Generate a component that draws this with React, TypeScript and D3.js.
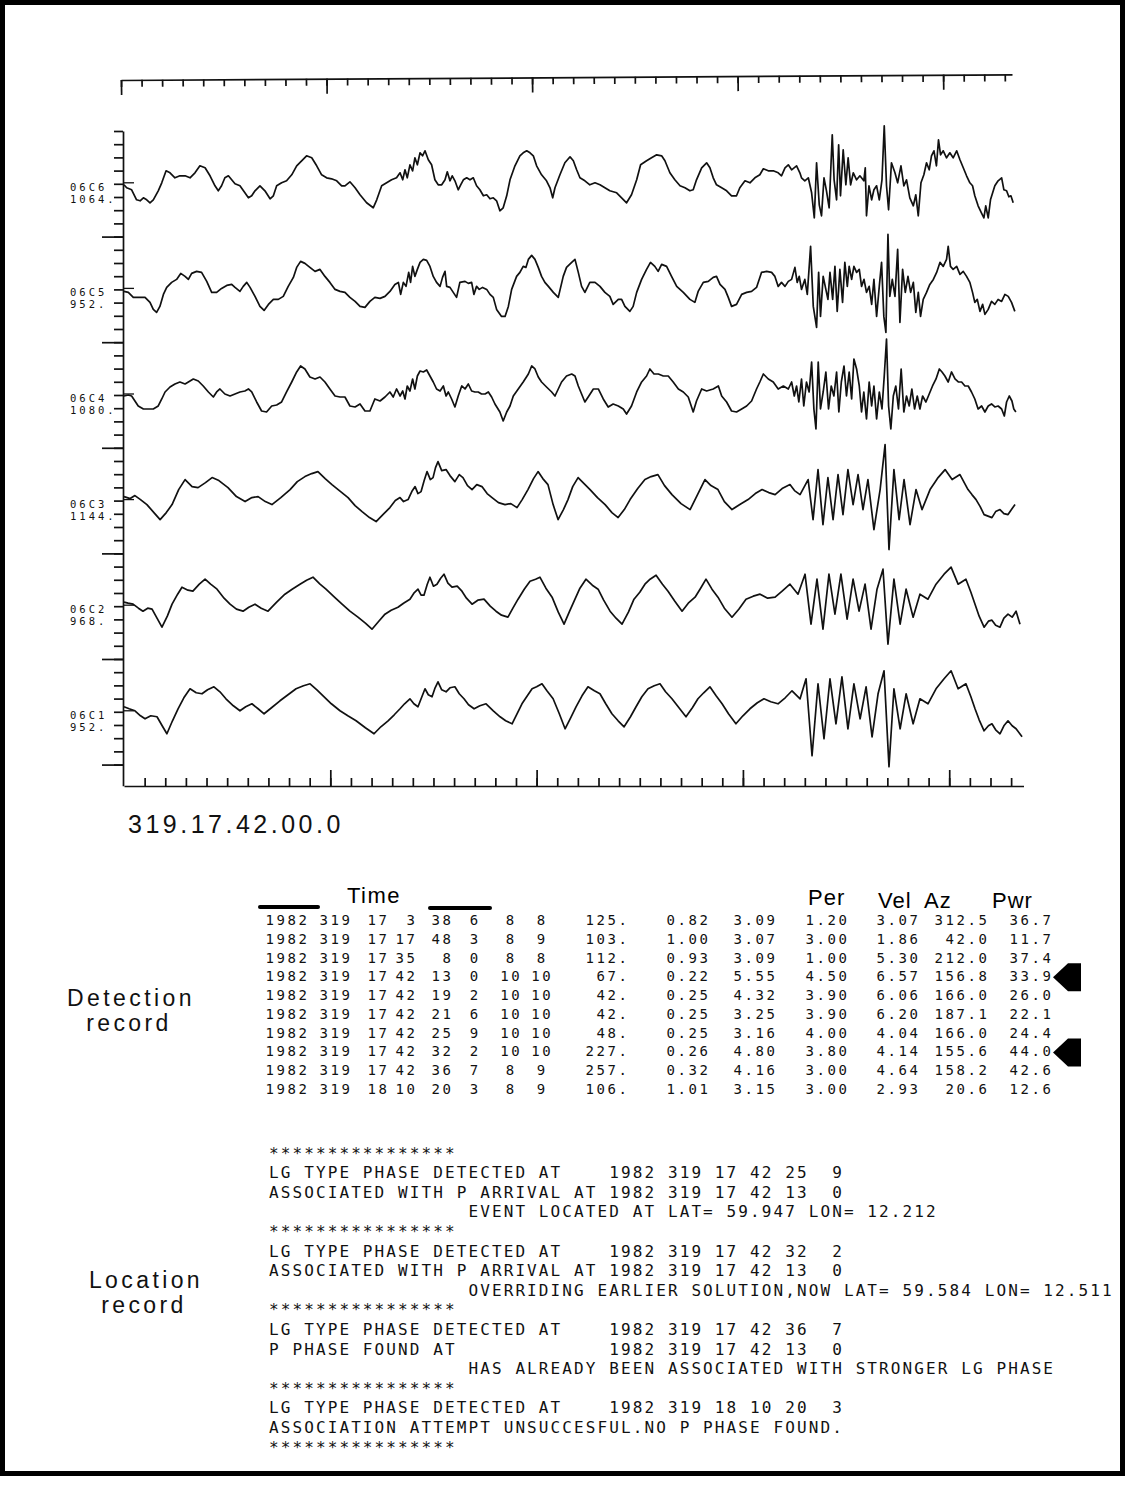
import React, { useEffect, useRef } from "react";
import * as d3 from "d3";

// channel names and gains printed left of each trace
const channels = ["06C6", "06C5", "06C4", "06C3", "06C2", "06C1"];
const gains = ["1064.", "952.", "1080.", "1144.", "968.", "952."];
const startTime = "319.17.42.00.0";

// seismogram turning points: [seconds after 17:42:00, amplitude]
const trace06C6: [number, number][] = [
  [0,-1],[0.13,-4],[0.37,-6],[0.61,-16],[0.78,-17],[0.94,-14],[1.1,-16],[1.26,-19],[1.42,-16],[1.66,-7],[1.83,1],[2.04,13],[2.23,11],[2.47,6],[2.71,8],[2.96,8],[3.2,6],[3.44,11],[3.68,18],[3.93,16],[4.17,8],[4.41,-2],[4.57,-7],[4.73,-2],[4.89,6],[5.06,8],[5.22,4],[5.38,0],[5.62,-2],[5.86,-9],[6.03,-14],[6.19,-12],[6.35,-7],[6.59,-2],[6.83,-7],[7.08,-15],[7.24,-12],[7.4,-2],[7.64,1],[7.88,3],[8.13,9],[8.37,18],[8.61,23],[8.85,28],[9.1,26],[9.34,18],[9.58,9],[9.82,6],[10.06,5],[10.31,3],[10.55,-2],[10.71,-2],[10.95,2],[11.2,-4],[11.44,-11],[11.76,-19],[12.08,-24],[12.25,-16],[12.49,-2],[12.73,1],[12.97,4],[13.21,6],[13.38,11],[13.51,4],[13.62,14],[13.73,6],[13.86,19],[13.99,13],[14.1,26],[14.22,19],[14.35,31],[14.47,28],[14.59,33],[14.75,24],[14.91,19],[15.07,4],[15.23,-1],[15.4,-1],[15.56,4],[15.67,12],[15.8,3],[15.91,8],[16.04,3],[16.2,-6],[16.32,-1],[16.45,4],[16.61,6],[16.77,4],[16.93,6],[17.09,-2],[17.25,-6],[17.42,-12],[17.58,-11],[17.74,-15],[17.9,-14],[18.06,-17],[18.22,-27],[18.38,-24],[18.55,-12],[18.71,4],[18.95,18],[19.19,28],[19.35,31],[19.52,33],[19.68,31],[19.84,28],[20.0,18],[20.24,9],[20.48,3],[20.65,-4],[20.78,-14],[20.89,-4],[21.13,9],[21.37,21],[21.62,27],[21.78,23],[21.94,14],[22.1,6],[22.34,3],[22.58,-1],[22.83,1],[23.07,-1],[23.55,-7],[23.88,-9],[24.12,-14],[24.36,-19],[24.6,-11],[24.85,4],[25.04,19],[25.33,23],[25.57,26],[25.82,29],[26.06,28],[26.22,23],[26.46,11],[26.7,4],[26.95,-2],[27.19,-4],[27.43,-7],[27.59,-6],[27.75,4],[28.0,16],[28.24,21],[28.4,16],[28.56,6],[28.72,-1],[28.97,-4],[29.21,-7],[29.45,-12],[29.69,-12],[29.85,-4],[30.1,3],[30.34,1],[30.58,6],[30.82,9],[30.99,15],[31.23,13],[31.47,13],[31.71,11],[31.87,8],[32.04,16],[32.2,19],[32.36,14],[32.6,18],[32.76,11],[32.84,6],[33.0,3],[33.17,6],[33.33,-9],[33.46,-34],[33.57,21],[33.7,-21],[33.81,-32],[33.93,6],[34.05,-7],[34.18,-24],[34.33,49],[34.42,4],[34.54,-16],[34.64,39],[34.73,-12],[34.86,34],[34.99,-1],[35.1,26],[35.22,-1],[35.35,11],[35.51,4],[35.67,8],[35.86,3],[35.93,16],[35.99,-32],[36.11,-2],[36.24,-16],[36.35,-6],[36.48,-2],[36.61,-16],[36.74,4],[36.85,58],[36.96,-2],[37.06,-26],[37.2,21],[37.37,11],[37.5,1],[37.66,18],[37.8,-2],[37.93,4],[38.09,-14],[38.26,-22],[38.38,-11],[38.5,-32],[38.63,1],[38.77,9],[38.9,21],[39.03,14],[39.14,28],[39.26,33],[39.38,18],[39.48,44],[39.58,29],[39.71,33],[39.87,26],[40.03,31],[40.19,26],[40.36,33],[40.52,24],[40.68,16],[40.84,8],[41.0,1],[41.13,-2],[41.24,-12],[41.4,-22],[41.56,-29],[41.68,-34],[41.77,-22],[41.89,-34],[42.0,-16],[42.21,-2],[42.37,3],[42.54,6],[42.65,-6],[42.78,-7],[42.89,-13],[42.99,-12],[43.1,-19],
];

const trace06C5: [number, number][] = [
  [0,-2],[0.21,-3],[0.45,-8],[0.78,-8],[1.02,-8],[1.26,-13],[1.42,-20],[1.58,-23],[1.74,-17],[1.91,-5],[2.07,2],[2.31,7],[2.55,10],[2.75,16],[2.96,13],[3.12,10],[3.28,16],[3.52,18],[3.76,17],[4.01,8],[4.25,-3],[4.49,-3],[4.73,1],[4.98,4],[5.22,5],[5.38,2],[5.62,-2],[5.78,3],[5.95,7],[6.11,2],[6.35,-7],[6.59,-17],[6.79,-21],[7.0,-15],[7.24,-10],[7.48,-10],[7.72,-7],[7.96,3],[8.21,12],[8.37,22],[8.56,28],[8.77,26],[9.01,22],[9.26,18],[9.5,20],[9.74,13],[9.98,7],[10.23,0],[10.47,-2],[10.71,-3],[10.95,-8],[11.2,-12],[11.44,-17],[11.68,-18],[11.92,-12],[12.16,-8],[12.41,-9],[12.65,-7],[12.89,-2],[13.13,5],[13.3,7],[13.41,-5],[13.54,7],[13.67,3],[13.8,17],[13.89,7],[13.99,23],[14.1,13],[14.22,20],[14.35,27],[14.51,30],[14.67,29],[14.83,23],[14.99,13],[15.15,7],[15.32,3],[15.44,12],[15.56,18],[15.64,3],[15.8,2],[15.96,-3],[16.12,-8],[16.28,7],[16.53,8],[16.69,6],[16.85,7],[16.96,-5],[17.09,3],[17.22,0],[17.38,2],[17.58,0],[17.74,-5],[17.9,-8],[18.06,-20],[18.3,-27],[18.47,-27],[18.63,-17],[18.79,0],[19.03,13],[19.19,17],[19.35,23],[19.48,22],[19.6,30],[19.76,34],[19.92,30],[20.08,22],[20.24,13],[20.4,7],[20.57,3],[20.81,-3],[21.05,-8],[21.29,13],[21.45,22],[21.7,27],[21.86,30],[22.02,17],[22.18,3],[22.34,-3],[22.58,7],[22.83,7],[23.07,3],[23.31,-3],[23.55,-7],[23.71,-15],[23.96,-10],[24.12,-10],[24.28,-17],[24.52,-22],[24.68,-17],[24.85,-3],[25.09,10],[25.33,20],[25.52,27],[25.73,23],[25.89,18],[26.06,25],[26.3,23],[26.54,13],[26.79,3],[27.11,-3],[27.43,-10],[27.67,-13],[27.83,-2],[28.08,7],[28.32,8],[28.56,12],[28.72,13],[28.89,5],[29.13,0],[29.29,-8],[29.45,-17],[29.69,-15],[29.94,-5],[30.18,-3],[30.42,-2],[30.66,2],[30.9,17],[31.15,18],[31.39,17],[31.55,13],[31.71,3],[31.87,7],[32.04,3],[32.2,8],[32.36,10],[32.52,22],[32.63,7],[32.73,13],[32.84,0],[33.0,10],[33.12,-5],[33.28,43],[33.41,-17],[33.57,-38],[33.67,17],[33.76,-27],[33.89,13],[34.02,0],[34.12,-10],[34.22,17],[34.35,-10],[34.46,23],[34.57,-22],[34.7,20],[34.83,-13],[34.94,27],[35.06,3],[35.15,23],[35.27,10],[35.38,23],[35.51,17],[35.64,20],[35.75,3],[35.87,10],[35.99,-3],[36.12,3],[36.24,-15],[36.35,10],[36.48,-27],[36.61,3],[36.72,27],[36.83,-27],[36.93,-43],[37.03,55],[37.12,-7],[37.24,10],[37.37,-7],[37.5,40],[37.61,-33],[37.74,20],[37.87,-3],[38.0,13],[38.13,-3],[38.26,7],[38.38,-23],[38.5,-3],[38.61,-27],[38.74,-10],[38.9,-3],[39.06,5],[39.23,10],[39.39,17],[39.55,27],[39.71,23],[39.87,30],[39.95,43],[40.06,23],[40.19,20],[40.36,23],[40.52,15],[40.68,18],[40.84,13],[41.0,7],[41.13,-3],[41.24,-13],[41.36,-10],[41.49,-22],[41.62,-15],[41.73,-25],[41.89,-20],[42.05,-12],[42.21,-15],[42.37,-10],[42.54,-12],[42.7,-5],[42.86,-7],[43.02,-13],[43.18,-22],
];

const trace06C4: [number, number][] = [
  [0,-1],[0.21,0],[0.37,-1],[0.53,-6],[0.69,-11],[0.94,-14],[1.18,-14],[1.42,-14],[1.66,-11],[1.83,-4],[1.99,3],[2.23,8],[2.47,11],[2.71,13],[2.96,11],[3.12,13],[3.36,16],[3.6,14],[3.84,9],[4.09,3],[4.33,-2],[4.49,3],[4.65,6],[4.89,1],[5.14,-1],[5.38,1],[5.62,3],[5.86,4],[6.03,6],[6.19,3],[6.43,-7],[6.67,-16],[6.91,-17],[7.16,-11],[7.4,-10],[7.64,-7],[7.88,3],[8.13,13],[8.37,23],[8.56,29],[8.77,26],[9.01,18],[9.26,16],[9.5,18],[9.74,13],[9.98,6],[10.23,-1],[10.47,-2],[10.71,-2],[10.95,-11],[11.2,-12],[11.44,-9],[11.68,-16],[11.92,-16],[12.16,-4],[12.41,-6],[12.65,-2],[12.89,3],[13.05,-2],[13.21,6],[13.38,-1],[13.51,4],[13.62,-4],[13.73,9],[13.86,4],[13.99,16],[14.1,6],[14.22,19],[14.35,24],[14.51,23],[14.67,25],[14.83,19],[14.99,13],[15.15,6],[15.32,4],[15.48,9],[15.61,-1],[15.72,3],[15.88,-4],[16.04,-12],[16.2,-1],[16.37,9],[16.53,6],[16.69,11],[16.85,4],[17.01,3],[17.17,3],[17.33,1],[17.5,1],[17.66,3],[17.82,-2],[17.98,-9],[18.22,-17],[18.38,-26],[18.55,-17],[18.71,-11],[18.87,-1],[19.11,6],[19.35,13],[19.6,21],[19.76,29],[19.92,26],[20.08,18],[20.24,13],[20.48,8],[20.73,3],[20.89,-1],[21.05,6],[21.21,13],[21.45,19],[21.7,21],[21.86,19],[22.02,9],[22.18,1],[22.34,-7],[22.5,-2],[22.75,6],[22.99,6],[23.23,-4],[23.47,-12],[23.71,-9],[23.96,-11],[24.2,-14],[24.36,-19],[24.6,-11],[24.85,3],[25.09,13],[25.33,19],[25.49,26],[25.69,21],[25.9,21],[26.14,19],[26.38,19],[26.62,13],[26.87,6],[27.11,3],[27.35,-2],[27.59,-17],[27.75,-6],[28.0,6],[28.24,4],[28.56,6],[28.81,9],[28.97,-1],[29.21,-7],[29.45,-16],[29.69,-17],[29.94,-14],[30.18,-11],[30.42,-6],[30.66,6],[30.82,13],[30.99,21],[31.23,16],[31.47,13],[31.71,6],[31.96,9],[32.2,6],[32.36,13],[32.49,-1],[32.6,9],[32.71,-7],[32.84,16],[32.95,-11],[33.08,13],[33.21,3],[33.33,33],[33.44,-14],[33.54,-34],[33.65,33],[33.76,-14],[33.89,3],[34.02,23],[34.15,-14],[34.28,9],[34.41,-1],[34.54,23],[34.65,-17],[34.77,13],[34.9,29],[35.02,-1],[35.15,23],[35.27,-4],[35.38,36],[35.51,26],[35.64,9],[35.75,-17],[35.86,3],[35.99,-24],[36.12,13],[36.24,-11],[36.35,9],[36.48,-24],[36.61,3],[36.74,-14],[36.85,19],[36.96,56],[37.06,-11],[37.17,-34],[37.29,-1],[37.41,9],[37.54,-14],[37.67,26],[37.8,-17],[37.93,-1],[38.06,-11],[38.19,6],[38.32,-14],[38.45,-1],[38.58,-14],[38.71,-1],[38.87,-7],[39.03,1],[39.19,9],[39.36,16],[39.52,26],[39.65,23],[39.79,19],[39.95,13],[40.11,23],[40.28,16],[40.44,13],[40.6,13],[40.76,9],[40.92,9],[41.08,3],[41.24,-4],[41.4,-14],[41.57,-11],[41.73,-17],[41.89,-11],[42.05,-9],[42.21,-12],[42.37,-11],[42.54,-14],[42.67,-21],[42.78,-7],[42.91,-1],[43.04,-6],[43.13,-14],[43.23,-17],
];

const trace06C3: [number, number][] = [
  [0,4],[0.3,2],[0.53,5],[0.8,1],[1.11,-4],[1.45,-12],[1.75,-19],[2.05,-12],[2.33,-4],[2.65,11],[2.96,21],[3.3,14],[3.59,13],[3.95,18],[4.27,23],[4.6,20],[5.04,13],[5.45,4],[5.87,-1],[6.2,3],[6.5,4],[6.85,-1],[7.17,-4],[7.6,3],[8.05,11],[8.4,19],[8.77,24],[9.1,27],[9.4,29],[9.75,22],[10.08,16],[10.5,9],[10.86,3],[11.2,-5],[11.54,-11],[11.9,-17],[12.22,-21],[12.55,-14],[12.89,-7],[13.15,0],[13.38,3],[13.55,-1],[13.77,1],[13.95,9],[14.11,14],[14.25,7],[14.4,9],[14.55,20],[14.69,29],[14.85,21],[14.98,23],[15.1,33],[15.22,39],[15.4,30],[15.61,31],[15.8,25],[16.04,19],[16.25,26],[16.43,23],[16.65,15],[16.87,11],[17.1,16],[17.35,14],[17.6,7],[17.84,3],[18.15,-2],[18.47,-4],[18.75,-3],[19.05,-7],[19.3,1],[19.58,11],[19.85,22],[20.07,29],[20.3,22],[20.55,16],[20.8,-4],[21.04,-19],[21.3,-9],[21.52,1],[21.75,14],[22.01,23],[22.3,17],[22.59,11],[22.95,3],[23.32,-4],[23.65,-12],[23.95,-17],[24.25,-9],[24.53,1],[24.9,12],[25.25,21],[25.55,24],[25.88,26],[26.2,15],[26.56,6],[27.0,-3],[27.44,-9],[27.8,6],[28.16,21],[28.45,15],[28.79,11],[29.1,-1],[29.47,-9],[29.85,-4],[30.25,1],[30.6,7],[30.93,11],[31.25,8],[31.56,6],[31.9,12],[32.28,16],[32.5,10],[32.77,6],[33.16,21],[33.4,-19],[33.64,31],[33.88,-24],[34.12,23],[34.37,-19],[34.61,26],[34.85,-14],[35.09,31],[35.34,-4],[35.58,26],[35.82,-9],[36.06,21],[36.35,-29],[36.65,11],[36.89,56],[37.08,-49],[37.32,31],[37.57,-19],[37.81,21],[38.1,-24],[38.39,11],[38.68,-9],[39.07,11],[39.3,18],[39.46,23],[39.8,31],[40.14,21],[40.52,26],[40.91,11],[41.1,6],[41.3,1],[41.5,-6],[41.69,-14],[42.07,-17],[42.25,-11],[42.46,-9],[42.65,-13],[42.85,-14],[43.05,-8],[43.19,-4],
];

const trace06C2: [number, number][] = [
  [0,4],[0.2,3],[0.44,2],[0.7,-2],[0.92,-5],[1.15,-2],[1.36,-3],[1.6,-12],[1.84,-21],[2.1,-10],[2.33,2],[2.6,12],[2.81,19],[3.1,16],[3.34,15],[3.65,22],[3.93,27],[4.2,22],[4.51,17],[4.85,8],[5.14,2],[5.45,-3],[5.77,-5],[6.05,-1],[6.35,2],[6.65,-2],[6.98,-5],[7.4,4],[7.8,12],[8.15,17],[8.53,22],[8.85,26],[9.16,29],[9.5,22],[9.79,17],[10.2,9],[10.57,2],[10.95,-5],[11.34,-11],[11.7,-17],[12.02,-23],[12.35,-15],[12.65,-8],[12.95,-4],[13.28,-1],[13.55,3],[13.86,7],[14.05,13],[14.25,17],[14.4,11],[14.54,11],[14.7,22],[14.83,29],[15.0,20],[15.17,22],[15.35,28],[15.51,32],[15.7,23],[15.9,19],[16.15,20],[16.38,15],[16.6,8],[16.87,2],[17.15,6],[17.45,7],[17.75,0],[18.03,-5],[18.3,-9],[18.61,-11],[18.85,-2],[19.1,7],[19.4,17],[19.68,25],[19.95,27],[20.16,29],[20.45,18],[20.75,9],[21.05,-6],[21.33,-18],[21.6,-5],[21.86,7],[22.1,18],[22.39,27],[22.7,21],[22.98,17],[23.25,6],[23.56,-5],[23.85,-12],[24.14,-18],[24.45,-6],[24.72,7],[25.0,14],[25.25,22],[25.5,27],[25.79,31],[26.1,22],[26.37,15],[26.7,5],[27.05,-5],[27.35,3],[27.68,9],[27.95,18],[28.21,27],[28.5,17],[28.79,9],[29.1,-2],[29.47,-11],[29.8,-3],[30.15,7],[30.5,10],[30.83,12],[31.2,8],[31.56,9],[31.9,15],[32.28,22],[32.67,12],[33.01,32],[33.3,-18],[33.59,27],[33.88,-23],[34.17,32],[34.46,-8],[34.75,32],[35.05,-13],[35.34,27],[35.63,-5],[35.92,22],[36.21,-23],[36.5,17],[36.79,37],[37.03,-38],[37.32,27],[37.62,-18],[37.91,17],[38.25,-11],[38.58,12],[38.97,7],[39.36,22],[39.75,32],[40.09,39],[40.43,22],[40.81,27],[41.05,14],[41.25,2],[41.45,-10],[41.69,-21],[41.9,-15],[42.07,-14],[42.25,-19],[42.46,-21],[42.65,-12],[42.85,-8],[43.05,-11],[43.24,-5],[43.43,-18],
];

const trace06C1: [number, number][] = [
  [0,5],[0.25,3],[0.53,1],[0.8,-4],[1.02,-7],[1.3,-4],[1.6,-5],[1.85,-14],[2.08,-22],[2.35,-9],[2.62,3],[2.9,14],[3.2,23],[3.5,19],[3.78,18],[4.05,22],[4.36,25],[4.65,20],[4.94,13],[5.3,6],[5.62,1],[5.9,5],[6.2,8],[6.5,3],[6.79,-2],[7.15,4],[7.56,11],[7.95,17],[8.34,23],[8.7,26],[9.02,28],[9.35,22],[9.65,16],[10.05,8],[10.47,1],[10.85,-4],[11.25,-9],[11.7,-16],[12.12,-22],[12.45,-15],[12.8,-9],[13.1,-3],[13.38,3],[13.6,8],[13.86,13],[14.05,8],[14.25,5],[14.42,14],[14.59,23],[14.75,17],[14.93,15],[15.08,24],[15.22,30],[15.4,22],[15.61,20],[15.8,24],[16.04,25],[16.25,18],[16.48,13],[16.7,7],[16.97,3],[17.25,6],[17.55,8],[17.9,1],[18.23,-5],[18.5,-9],[18.81,-12],[19.05,-2],[19.29,8],[19.55,16],[19.78,23],[20.0,25],[20.26,28],[20.5,21],[20.8,13],[21.1,-2],[21.38,-17],[21.65,-6],[21.91,5],[22.2,16],[22.49,25],[22.8,21],[23.07,18],[23.35,8],[23.65,-2],[23.95,-9],[24.24,-15],[24.55,-5],[24.82,5],[25.1,15],[25.4,23],[25.7,26],[25.98,28],[26.25,20],[26.56,13],[26.9,4],[27.24,-5],[27.55,4],[27.82,13],[28.1,19],[28.4,25],[28.7,16],[28.99,8],[29.3,-2],[29.66,-12],[30.0,-4],[30.34,3],[30.7,9],[31.02,13],[31.35,10],[31.7,8],[32.05,14],[32.38,21],[32.77,13],[33.06,33],[33.35,-44],[33.64,28],[33.93,-27],[34.22,33],[34.51,-12],[34.8,35],[35.09,-17],[35.38,28],[35.68,-7],[35.97,25],[36.26,-25],[36.55,18],[36.84,41],[37.08,-55],[37.32,23],[37.62,-17],[37.91,18],[38.25,-12],[38.58,13],[38.97,8],[39.36,23],[39.75,33],[40.09,41],[40.43,23],[40.81,28],[41.05,15],[41.25,3],[41.45,-8],[41.69,-19],[41.9,-14],[42.07,-12],[42.25,-18],[42.46,-22],[42.65,-14],[42.85,-9],[43.05,-14],[43.24,-17],[43.53,-25],
];

const traces = [trace06C6, trace06C5, trace06C4, trace06C3, trace06C2, trace06C1];

// detection record table
const detYear = [1982, 1982, 1982, 1982, 1982, 1982, 1982, 1982, 1982, 1982];
const detDay = [319, 319, 319, 319, 319, 319, 319, 319, 319, 319];
const detHour = [17, 17, 17, 17, 17, 17, 17, 17, 17, 18];
const detMin = [3, 17, 35, 42, 42, 42, 42, 42, 42, 10];
const detSec = [38, 48, 8, 13, 19, 21, 25, 32, 36, 20];
const detTenth = [6, 3, 0, 0, 2, 6, 9, 2, 7, 3];
const detN1 = [8, 8, 8, 10, 10, 10, 10, 10, 8, 8];
const detN2 = [8, 9, 8, 10, 10, 10, 10, 10, 9, 9];
const detAmp = [125, 103, 112, 67, 42, 42, 48, 227, 257, 106];
const detQ = [0.82, 1.0, 0.93, 0.22, 0.25, 0.25, 0.25, 0.26, 0.32, 1.01];
const detSnr = [3.09, 3.07, 3.09, 5.55, 4.32, 3.25, 3.16, 4.8, 4.16, 3.15];
const detPer = [1.2, 3.0, 1.0, 4.5, 3.9, 3.9, 4.0, 3.8, 3.0, 3.0];
const detVel = [3.07, 1.86, 5.3, 6.57, 6.06, 6.2, 4.04, 4.14, 4.64, 2.93];
const detAz = [312.5, 42.0, 212.0, 156.8, 166.0, 187.1, 166.0, 155.6, 158.2, 20.6];
const detPwr = [36.7, 11.7, 37.4, 33.9, 26.0, 22.1, 24.4, 44.0, 42.6, 12.6];
const markedRows = [3, 7];

// location record printout
const locationLines = [
  "****************",
  "LG TYPE PHASE DETECTED AT    1982 319 17 42 25  9",
  "ASSOCIATED WITH P ARRIVAL AT 1982 319 17 42 13  0",
  "                 EVENT LOCATED AT LAT= 59.947 LON= 12.212",
  "****************",
  "LG TYPE PHASE DETECTED AT    1982 319 17 42 32  2",
  "ASSOCIATED WITH P ARRIVAL AT 1982 319 17 42 13  0",
  "                 OVERRIDING EARLIER SOLUTION,NOW LAT= 59.584 LON= 12.511",
  "****************",
  "LG TYPE PHASE DETECTED AT    1982 319 17 42 36  7",
  "P PHASE FOUND AT             1982 319 17 42 13  0",
  "                 HAS ALREADY BEEN ASSOCIATED WITH STRONGER LG PHASE",
  "****************",
  "LG TYPE PHASE DETECTED AT    1982 319 18 10 20  3",
  "ASSOCIATION ATTEMPT UNSUCCESFUL.NO P PHASE FOUND.",
  "****************",
];

const SANS = "'Liberation Sans', Arial, sans-serif";
const MONO = "'DejaVu Sans Mono', monospace";

const App = () => {
  const ref = useRef<SVGSVGElement>(null);

  useEffect(() => {
    const svg = d3.select(ref.current);
    svg.selectAll("*").remove();

    svg.append("rect").attr("width", 1125).attr("height", 1486).attr("fill", "#fff");
    // black frame round the sheet
    svg.append("rect")
      .attr("x", 2.5).attr("y", 2.5).attr("width", 1120).attr("height", 1471)
      .attr("fill", "none").attr("stroke", "#000").attr("stroke-width", 5);

    // scales
    const x = d3.scaleLinear().domain([0, 43.6]).range([124, 1023.5]);
    const xTop = d3.scaleLinear().domain([0, 43.35]).range([121, 1012]);
    const yCh = d3.scaleLinear().domain([0, 6.2]).range([131, 785.7]);
    const amp = d3.scaleLinear().domain([-50, 50]).range([50, -50]);

    const styleAxis = (g) => {
      g.selectAll("path, line").attr("stroke", "#111").attr("stroke-width", 1.7);
      g.selectAll("text").remove();
    };
    const noLabel = () => "";

    // top time axis (ticks down)
    const top = svg.append("g").attr("transform", "translate(0,80) rotate(-0.36,121,0)");
    top.call(d3.axisBottom(xTop).tickValues(d3.range(0, 44)).tickSize(7).tickSizeOuter(0).tickFormat(noLabel)).call(styleAxis);
    top.append("g")
      .call(d3.axisBottom(xTop).tickValues([0, 10, 20, 30, 40]).tickSize(15).tickSizeOuter(0).tickFormat(noLabel))
      .call((g) => g.select(".domain").remove())
      .call(styleAxis);

    // bottom time axis (ticks up)
    const bottom = svg.append("g").attr("transform", "translate(0,786)");
    bottom.call(d3.axisTop(x).tickValues(d3.range(1, 44)).tickSize(8).tickSizeOuter(0).tickFormat(noLabel)).call(styleAxis);
    bottom.append("g")
      .call(d3.axisTop(x).tickValues([10, 20, 30, 40]).tickSize(16).tickSizeOuter(0).tickFormat(noLabel))
      .call((g) => g.select(".domain").remove())
      .call(styleAxis);

    // left channel axis
    const left = svg.append("g").attr("transform", "translate(123,0)");
    left.call(d3.axisLeft(yCh).tickValues(d3.range(0, 49).map((k) => k / 8)).tickSize(9).tickSizeOuter(0).tickFormat(noLabel)).call(styleAxis);
    left.append("g")
      .call(d3.axisLeft(yCh).tickValues([1, 2, 3, 4, 5, 6]).tickSize(21).tickSizeOuter(0).tickFormat(noLabel))
      .call((g) => g.select(".domain").remove())
      .call(styleAxis);

    // traces
    traces.forEach((tr, i) => {
      const base = yCh(i + 0.5);
      const line = d3.line<[number, number]>()
        .x((d) => x(d[0]))
        .y((d) => base + amp(d[1]));
      svg.append("path")
        .attr("d", line(tr))
        .attr("fill", "none")
        .attr("stroke", "#111")
        .attr("stroke-width", 1.7)
        .attr("stroke-linejoin", "round");
      svg.append("line")
        .attr("x1", x(0)).attr("x2", x(0) + 10)
        .attr("y1", base - 1).attr("y2", base - 1)
        .attr("stroke", "#111").attr("stroke-width", 1.3);
      const lab = svg.append("g")
        .attr("font-family", MONO).attr("font-size", 10.5).attr("letter-spacing", 3).attr("fill", "#111");
      lab.append("text").attr("x", 70).attr("y", base + 7).text(channels[i]);
      lab.append("text").attr("x", 70).attr("y", base + 19).text(gains[i]);
    });

    svg.append("text")
      .attr("x", 128).attr("y", 833)
      .attr("font-family", SANS).attr("font-size", 25).attr("letter-spacing", 3.5)
      .attr("fill", "#111").text(startTime);

    // detection table header
    const head = svg.append("g").attr("font-family", SANS).attr("fill", "#000");
    head.append("text").attr("x", 347).attr("y", 903).attr("font-size", 22).attr("letter-spacing", 1.5).text("Time");
    [[260, 318, 907], [430, 490, 908]].forEach(([a, b, yy]) => {
      head.append("line").attr("x1", a).attr("x2", b).attr("y1", yy).attr("y2", yy)
        .attr("stroke", "#000").attr("stroke-width", 4).attr("stroke-linecap", "round");
    });
    const heads: [string, number, number][] = [["Per", 808, 905], ["Vel", 878, 908], ["Az", 924, 908], ["Pwr", 992, 908]];
    heads.forEach(([s, hx, hy]) => {
      head.append("text").attr("x", hx).attr("y", hy).attr("font-size", 22).attr("letter-spacing", 1).text(s);
    });

    // detection rows
    const rowY = d3.scaleLinear().domain([0, 9]).range([925, 1094]);
    const ls = 2.6;
    const cols: { get: (i: number) => string; x: number; anchor: string }[] = [
      { get: (i) => String(detYear[i]), x: 307, anchor: "end" },
      { get: (i) => String(detDay[i]), x: 350, anchor: "end" },
      { get: (i) => String(detHour[i]), x: 387, anchor: "end" },
      { get: (i) => String(detMin[i]), x: 415, anchor: "end" },
      { get: (i) => String(detSec[i]), x: 451, anchor: "end" },
      { get: (i) => String(detTenth[i]), x: 474, anchor: "middle" },
      { get: (i) => String(detN1[i]), x: 510, anchor: "middle" },
      { get: (i) => String(detN2[i]), x: 541, anchor: "middle" },
      { get: (i) => detAmp[i] + ".", x: 627, anchor: "end" },
      { get: (i) => detQ[i].toFixed(2), x: 708, anchor: "end" },
      { get: (i) => detSnr[i].toFixed(2), x: 775, anchor: "end" },
      { get: (i) => detPer[i].toFixed(2), x: 847, anchor: "end" },
      { get: (i) => detVel[i].toFixed(2), x: 918, anchor: "end" },
      { get: (i) => detAz[i].toFixed(1), x: 987, anchor: "end" },
      { get: (i) => detPwr[i].toFixed(1), x: 1051, anchor: "end" },
    ];
    const table = svg.append("g").attr("font-family", MONO).attr("font-size", 14).attr("letter-spacing", ls).attr("fill", "#111");
    detYear.forEach((_, i) => {
      cols.forEach((c) => {
        table.append("text")
          .attr("x", c.x + (c.anchor === "end" ? ls : ls / 2))
          .attr("y", rowY(i))
          .attr("text-anchor", c.anchor)
          .text(c.get(i));
      });
    });

    // arrows marking the associated detections
    const arrow = d3.line();
    markedRows.forEach((r) => {
      const cy = rowY(r) - 4;
      svg.append("path")
        .attr("d", arrow([[1053, cy], [1068, cy - 14], [1081, cy - 14], [1081, cy + 14], [1068, cy + 14]]) + "Z")
        .attr("fill", "#000");
    });

    // side labels
    const side = svg.append("g").attr("font-family", SANS).attr("font-size", 23).attr("letter-spacing", 3.4)
      .attr("text-anchor", "middle").attr("fill", "#111");
    side.append("text").attr("x", 131).attr("y", 1006).text("Detection");
    side.append("text").attr("x", 129).attr("y", 1031).text("record");
    side.append("text").attr("x", 146).attr("y", 1288).text("Location");
    side.append("text").attr("x", 144).attr("y", 1313).text("record");

    // location printout
    const lineY = d3.scaleLinear().domain([0, 15]).range([1158.6, 1452.6]);
    const loc = svg.append("g").attr("font-family", MONO).attr("font-size", 16).attr("letter-spacing", 2.1).attr("fill", "#111");
    locationLines.forEach((s, k) => {
      loc.append("text").attr("x", 269).attr("y", lineY(k)).text(s.replace(/ /g, "\u00a0"));
    });
  }, []);

  return <svg ref={ref} width={1125} height={1486} style={{ position: "absolute", left: 0, top: 0 }} />;
};

export default App;
